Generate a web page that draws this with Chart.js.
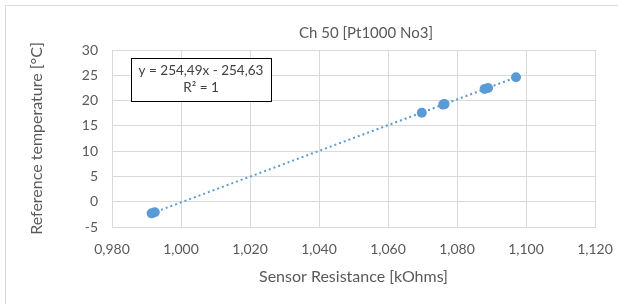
<!DOCTYPE html>
<html>
<head>
<meta charset="utf-8">
<script src="https://cdn.jsdelivr.net/npm/chart.js@4.4.1/dist/chart.umd.min.js"></script>
<style>
  html, body { margin: 0; padding: 0; background: #fff; }
  #wrap { position: relative; width: 618px; height: 304px; }
</style>
</head>
<body>
<div id="wrap"><canvas id="grafico" width="618" height="304"></canvas></div>
<script>
// Valores
const resistencias = [0.9915, 0.9924, 1.0698, 1.0760, 1.0764, 1.0880, 1.0890, 1.0971];
const temperaturas = [-2.3, -2.1, 17.6, 19.2, 19.3, 22.3, 22.5, 24.6];
// Linha de tendência (extremos)
const tendenciaX = [0.9915, 1.0971];
const tendenciaY = [-2.30, 24.58];
const tituloGrafico = 'Ch 50 [Pt1000 No3]';
const equacao = ['y = 254,49x - 254,63', 'R² = 1'];

const corTexto = '#595959';
const corGrade = '#d9d9d9';
const corAzul = '#5B9BD5';
const fonte = 'Lato, "Liberation Sans", sans-serif';

// Moldura, título e caixa da equação
const extras = {
    id: 'extras',
    afterDraw(chart) {
        const ctx = chart.ctx;
        ctx.save();
        ctx.strokeStyle = corGrade;
        ctx.lineWidth = 1;
        ctx.beginPath();
        ctx.moveTo(5.5, 304);
        ctx.lineTo(5.5, 5.5);
        ctx.lineTo(618, 5.5);
        ctx.stroke();

        ctx.fillStyle = corTexto;
        ctx.font = '15px ' + fonte;
        ctx.textAlign = 'center';
        ctx.textBaseline = 'middle';
        ctx.fillText(tituloGrafico, 366, 33);

        ctx.fillStyle = '#fff';
        ctx.fillRect(131, 58, 140, 43);
        ctx.strokeStyle = '#000';
        ctx.strokeRect(131.5, 58.5, 140, 43);
        ctx.fillStyle = '#404040';
        ctx.font = '13.5px ' + fonte;
        ctx.fillText(equacao[0], 201, 71);
        ctx.fillText(equacao[1], 201, 88);
        ctx.restore();
    }
};

const ctx = document.getElementById('grafico').getContext('2d');
new Chart(ctx, {
    type: 'scatter',
    data: {
        datasets: [
            {
                type: 'line',
                data: tendenciaX.map((x, i) => ({ x: x, y: tendenciaY[i] })),
                borderColor: corAzul,
                borderWidth: 2,
                borderDash: [2, 3],
                pointRadius: 0,
                fill: false
            },
            {
                data: resistencias.map((x, i) => ({ x: x, y: temperaturas[i] })),
                backgroundColor: corAzul,
                borderWidth: 0,
                pointRadius: 5
            }
        ]
    },
    options: {
        responsive: false,
        animation: false,
        layout: { padding: { left: 0, top: 50, right: 23, bottom: 17 } },
        plugins: {
            legend: { display: false },
            tooltip: { enabled: false },
            title: { display: false }
        },
        scales: {
            x: {
                type: 'linear',
                min: 0.98,
                max: 1.12,
                ticks: {
                    stepSize: 0.02,
                    color: corTexto,
                    font: { family: fonte, size: 14 },
                    padding: 14,
                    callback: v => v.toFixed(3).replace('.', ',')
                },
                grid: { color: corGrade, drawTicks: false },
                border: { color: corGrade },
                title: {
                    display: true,
                    text: 'Sensor Resistance [kOhms]',
                    color: corTexto,
                    font: { family: fonte, size: 16 },
                    padding: { top: 0, bottom: 1 }
                },
                afterFit: s => {
                    s.height = 60;
                    s.paddingLeft = 0;
                    s.paddingRight = 0;
                }
            },
            y: {
                min: -5,
                max: 30,
                ticks: {
                    stepSize: 5,
                    color: corTexto,
                    font: { family: fonte, size: 14 },
                    padding: 14
                },
                grid: { color: corGrade, drawTicks: false },
                border: { color: corGrade },
                title: {
                    display: true,
                    text: 'Reference temperature [°C]',
                    color: corTexto,
                    font: { family: fonte, size: 16 },
                    padding: { top: 27, bottom: 0 }
                },
                afterFit: s => {
                    s.width = 112;
                    s.paddingTop = 0;
                    s.paddingBottom = 0;
                }
            }
        }
    },
    plugins: [extras]
});
</script>
</body>
</html>
